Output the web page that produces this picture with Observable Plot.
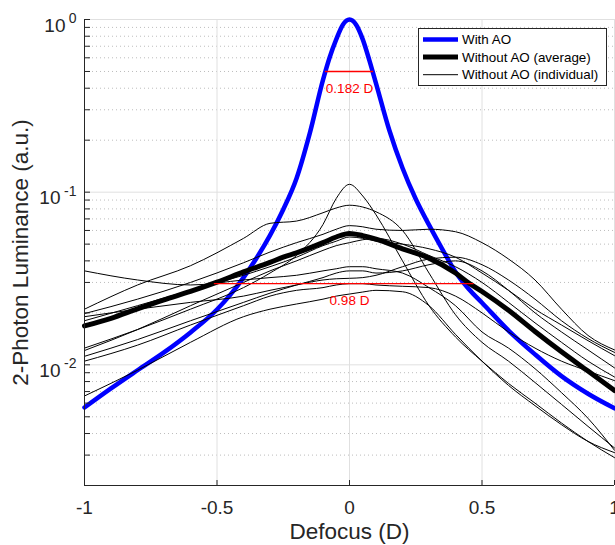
<!DOCTYPE html>
<html>
<head>
<meta charset="utf-8">
<script src="https://cdn.jsdelivr.net/npm/d3@7"></script>
<script src="https://cdn.jsdelivr.net/npm/@observablehq/plot@0.6"></script>
<style>
  html, body { margin: 0; padding: 0; background: #fff; }
  #wrap { position: relative; width: 615px; height: 545px; overflow: hidden; }
  #legend { position: absolute; background: #fff; border: 1px solid #262626;
    font-family: 'Liberation Sans', Arial, sans-serif; color: #000; }
</style>
</head>
<body>
<div id="wrap"></div>
<script>
// ---- axes / ticks ----
const xDomain = [-1, 1];
const yDomain = [0.002, 1];
const xTicks = [-1, -0.5, 0, 0.5, 1];
const xTickLabels = ["-1", "-0.5", "0", "0.5", "1"];
const xGrid = [-0.5, 0, 0.5, 1];
const yDecades = [0.01, 0.1, 1];
const yBaseLabel = "10";
const yExponents = ["-2", "-1", "0"];
const yMinor = [0.002, 0.003, 0.004, 0.005, 0.006, 0.007, 0.008, 0.009,
                0.02, 0.03, 0.04, 0.05, 0.06, 0.07, 0.08, 0.09,
                0.2, 0.3, 0.4, 0.5, 0.6, 0.7, 0.8, 0.9];
const xLabel = "Defocus (D)";
const yLabel = "2-Photon Luminance (a.u.)";

// ---- With AO ----
const aoX = [-1, -0.9, -0.8, -0.7, -0.6, -0.5, -0.45, -0.4, -0.35, -0.3, -0.25, -0.2, -0.15, -0.1, -0.075, -0.05, -0.025, 0,
             0.025, 0.05, 0.075, 0.1, 0.15, 0.2, 0.25, 0.3, 0.35, 0.4, 0.45, 0.5, 0.6, 0.7, 0.8, 0.9, 1];
const aoY = [0.00566, 0.0073, 0.0093, 0.0118, 0.0154, 0.0209, 0.0254, 0.0320, 0.0417, 0.0562, 0.0794, 0.120, 0.219, 0.447, 0.603, 0.767, 0.933, 1,
             0.933, 0.767, 0.58, 0.427, 0.229, 0.138, 0.0912, 0.0646, 0.0468, 0.0345, 0.0275, 0.0229, 0.0158, 0.0115, 0.0086, 0.0068, 0.0056];

// ---- Without AO (average) ----
const avgX = [-1, -0.9, -0.8, -0.7, -0.6, -0.5, -0.4, -0.3, -0.25, -0.2, -0.1, -0.05, 0, 0.05, 0.1,
              0.2, 0.3, 0.4, 0.45, 0.5, 0.6, 0.7, 0.8, 0.9, 1];
const avgY = [0.0168, 0.0186, 0.0211, 0.0238, 0.0266, 0.0301, 0.0345, 0.0392, 0.042, 0.0445, 0.051, 0.055, 0.0577, 0.056, 0.0535,
              0.047, 0.0415, 0.034, 0.0298, 0.0266, 0.0207, 0.0156, 0.0119, 0.0092, 0.0071];

// ---- Without AO (individual) ----
const indX = [-1, -0.8, -0.6, -0.4, -0.3, -0.2, -0.1, -0.05, 0, 0.05, 0.1, 0.2, 0.3, 0.4, 0.5, 0.6, 0.7, 0.8, 0.9, 1];
const ind1  = [0.0125, 0.016, 0.021, 0.028, 0.034, 0.043, 0.065, 0.092, 0.111, 0.095, 0.074, 0.040, 0.022, 0.0145, 0.0105, 0.0078, 0.006, 0.0046, 0.0036, 0.0029];
const ind2  = [0.021, 0.029, 0.0375, 0.054, 0.066, 0.068, 0.076, 0.081, 0.084, 0.082, 0.077, 0.060, 0.034, 0.0195, 0.0135, 0.0105, 0.0079, 0.0059, 0.0044, 0.0033];
const ind3  = [0.0198, 0.024, 0.030, 0.039, 0.045, 0.051, 0.057, 0.061, 0.064, 0.063, 0.061, 0.060, 0.061, 0.059, 0.051, 0.041, 0.031, 0.021, 0.0148, 0.0122];
const ind4  = [0.018, 0.022, 0.027, 0.033, 0.037, 0.042, 0.049, 0.052, 0.055, 0.054, 0.052, 0.050, 0.047, 0.042, 0.034, 0.027, 0.021, 0.017, 0.0138, 0.0113];
const ind5  = [0.0121, 0.016, 0.022, 0.030, 0.035, 0.040, 0.046, 0.049, 0.051, 0.053, 0.054, 0.050, 0.043, 0.037, 0.030, 0.023, 0.0175, 0.0135, 0.0105, 0.0085];
const ind6  = [0.035, 0.031, 0.029, 0.031, 0.032, 0.033, 0.035, 0.036, 0.037, 0.037, 0.036, 0.034, 0.028, 0.022, 0.0155, 0.0125, 0.0095, 0.0069, 0.0049, 0.0032];
const ind7  = [0.0112, 0.014, 0.018, 0.023, 0.026, 0.029, 0.032, 0.034, 0.035, 0.035, 0.034, 0.035, 0.038, 0.040, 0.035, 0.027, 0.020, 0.0155, 0.0122, 0.0096];
const ind8  = [0.0105, 0.013, 0.017, 0.022, 0.025, 0.027, 0.028, 0.029, 0.0295, 0.0295, 0.029, 0.0285, 0.028, 0.025, 0.020, 0.0155, 0.0125, 0.0105, 0.0092, 0.0081];
const ind9  = [0.0066, 0.0093, 0.0135, 0.019, 0.021, 0.0225, 0.024, 0.025, 0.0257, 0.0264, 0.027, 0.0265, 0.022, 0.015, 0.0105, 0.0076, 0.0058, 0.0045, 0.0036, 0.0031];
const ind10 = [0.019, 0.021, 0.023, 0.025, 0.027, 0.029, 0.031, 0.0315, 0.0317, 0.032, 0.033, 0.037, 0.041, 0.042, 0.038, 0.031, 0.024, 0.018, 0.0142, 0.0118];
const individuals = [ind1, ind2, ind3, ind4, ind5, ind6, ind7, ind8, ind9, ind10];

// ---- FWHM annotations ----
const fwhmY = [0.5, 0.0295];
const fwhmX1 = [-0.091, -0.51];
const fwhmX2 = [0.091, 0.47];
const fwhmCenter = [0, 0];
const fwhmLabels = ["0.182 D", "0.98 D"];

// ---- legend ----
const legendLabels = ["With AO", "Without AO (average)", "Without AO (individual)"];
const legendColors = ["#0000ff", "#000000", "#000000"];
const legendWidths = [4.5, 5, 1];

// build tables
const aoData = aoX.map((x, i) => ({x, y: aoY[i]}));
const avgData = avgX.map((x, i) => ({x, y: avgY[i]}));
const indData = individuals.flatMap((s, k) => indX.map((x, i) => ({id: k, x, y: s[i]})));
const fwhm = fwhmY.map((y, i) => ({y, x1: fwhmX1[i], x2: fwhmX2[i], cx: fwhmCenter[i], label: fwhmLabels[i]}));
const yAllTicks = [...yMinor, ...yDecades];
const axisColor = "#262626";
const font = "'Liberation Sans', Arial, sans-serif";

const chart = Plot.plot({
  width: 615,
  height: 545,
  marginTop: 19,
  marginBottom: 60,
  marginLeft: 84,
  marginRight: 1,
  style: {fontFamily: font, fontSize: "19px", background: "#fff", color: axisColor},
  x: {domain: xDomain},
  y: {type: "log", domain: yDomain},
  marks: [
    Plot.ruleY(yMinor, {stroke: "#bdbdbd", strokeDasharray: "1,3"}),
    Plot.ruleY(yDecades, {stroke: "#e0e0e0"}),
    Plot.ruleX(xGrid, {stroke: "#e0e0e0"}),
    Plot.line(aoData, {x: "x", y: "y", stroke: "#0000ff", strokeWidth: 4.5, curve: "monotone-x"}),
    Plot.line(avgData, {x: "x", y: "y", stroke: "#000", strokeWidth: 5, curve: "monotone-x"}),
    Plot.line(indData, {x: "x", y: "y", z: "id", stroke: "#000", strokeWidth: 1, curve: "monotone-x"}),
    Plot.ruleY(fwhm, {y: "y", x1: "x1", x2: "x2", stroke: "#ff0000", strokeWidth: 1.3}),
    Plot.text(fwhm, {x: "cx", y: "y", text: "label", dy: 17, fill: "#ff0000", fontSize: 13.5}),
    Plot.ruleX([xDomain[0]], {stroke: axisColor}),
    Plot.ruleY([yDomain[0]], {stroke: axisColor}),
    Plot.axisX({ticks: xTicks, tickSize: -5, tickPadding: 20, tickFormat: d => xTickLabels[xTicks.indexOf(d)], label: null, stroke: axisColor, fill: axisColor}),
    Plot.axisY({ticks: yAllTicks, tickSize: -6, tickFormat: () => "", label: null, stroke: axisColor}),
    Plot.text(yDecades, {y: d => d, frameAnchor: "left", text: (d, i) => yExponents[i], textAnchor: "end", lineAnchor: "middle", dx: -8, dy: -1, fontSize: 14, fill: axisColor}),
    Plot.text(yDecades, {filter: (d, i) => yExponents[i].length === 1, y: d => d, frameAnchor: "left", text: () => yBaseLabel, textAnchor: "end", lineAnchor: "middle", dx: -19, dy: 6, fontSize: 19, fill: axisColor}),
    Plot.text(yDecades, {filter: (d, i) => yExponents[i].length === 2, y: d => d, frameAnchor: "left", text: () => yBaseLabel, textAnchor: "end", lineAnchor: "middle", dx: -24, dy: 6, fontSize: 19, fill: axisColor}),
    Plot.text([xLabel], {text: d => d, frameAnchor: "bottom", textAnchor: "middle", lineAnchor: "middle", dy: 46, fontSize: 22.5, fill: axisColor}),
    Plot.text([yLabel], {text: d => d, frameAnchor: "left", textAnchor: "middle", lineAnchor: "middle", dx: -64, rotate: -90, fontSize: 22.5, fill: axisColor})
  ]
});

const wrap = document.getElementById("wrap");
wrap.appendChild(chart);

// legend box (HTML overlay)
const legend = document.createElement("div");
legend.id = "legend";
legend.style.left = "418px";
legend.style.top = "28px";
legend.style.width = "187px";
legend.style.height = "56px";
const ns = "http://www.w3.org/2000/svg";
const lsvg = document.createElementNS(ns, "svg");
lsvg.setAttribute("width", 187);
lsvg.setAttribute("height", 56);
lsvg.style.position = "absolute";
lsvg.style.left = "0";
lsvg.style.top = "0";
legendLabels.forEach((lab, i) => {
  const cy = 10.5 + i * 17.6;
  const ln = document.createElementNS(ns, "line");
  ln.setAttribute("x1", 4); ln.setAttribute("x2", 39);
  ln.setAttribute("y1", cy); ln.setAttribute("y2", cy);
  ln.setAttribute("stroke", legendColors[i]);
  ln.setAttribute("stroke-width", legendWidths[i]);
  lsvg.appendChild(ln);
  const t = document.createElementNS(ns, "text");
  t.setAttribute("x", 43);
  t.setAttribute("y", cy);
  t.setAttribute("dy", "0.35em");
  t.setAttribute("font-family", font);
  t.setAttribute("font-size", 13.4);
  t.textContent = lab;
  lsvg.appendChild(t);
});
legend.appendChild(lsvg);
wrap.appendChild(legend);
</script>
</body>
</html>
